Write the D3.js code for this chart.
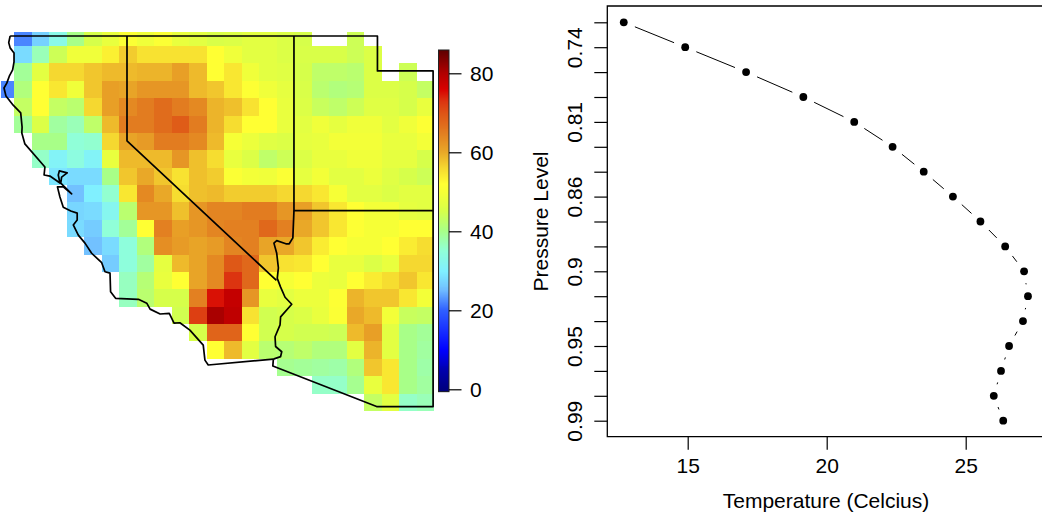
<!DOCTYPE html>
<html>
<head>
<meta charset="utf-8">
<script src="https://cdn.jsdelivr.net/npm/d3@7"></script>
<style>
html, body { margin: 0; padding: 0; background: #fff; }
svg { display: block; }
text { font-family: "Liberation Sans", Arial, sans-serif; font-size: 21px; fill: #000; }
</style>
</head>
<body>
<svg id="chart" width="1042" height="515"></svg>
<script>
const _ = null;

// heat map, one row per grid line (north to south)
const gridValues = [
	[_,22,27,33,40,45,48,51,49,51,48,47,45.5,46,47,47,46,45,_,_,44,_,_,_,_],
	[_,28,37,44,49,49,53.5,57,55,55,55,55,52,49,47,47,46,45.5,45.5,45.5,44,46,_,_,_],
	[_,39,47,56,56,57.5,58.5,58.5,59,59,61,58.5,52,54.5,49,47,46.5,45,42.5,42.5,42,46,_,44,_],
	[22,41,52,54.5,49,57.5,61,60.5,62,62,62,58.5,57.5,54.5,51.5,49,47.5,45.5,42,41,41.5,46,46,45,43],
	[_,43,52,43,42,56,61,63.5,65,67,65,63.5,59,58,55,52,48,46,43.5,42.5,44,46.5,46.5,45,48],
	[_,39,46,38.5,37,42.5,58.5,65,65,67,69,65,59,55.5,52,52,48,47,49,47.5,49,49,47,49,51.5],
	[_,_,40,40,35,35.5,56,60.5,61.5,65,65,63.5,58.5,50,48.5,46.5,46,47.5,48,49.5,49.5,49.5,48,48,49.5],
	[_,_,36,31,34,31,48,58.5,58.5,58.5,62,58,55.5,48,46,42.5,44,46,48,48,49,49,47.5,47.5,45],
	[_,_,_,29,28,28,40,57.5,60,57.5,55,58,57,51,49.5,49,51,47.5,49.5,47,47,48.5,46.5,45,44],
	[_,_,_,_,25.5,30,35.5,54.5,63.5,60,55.5,58,58.5,57,57,57,56,56,54.5,50,47,47,46,47,47],
	[_,_,_,_,27.5,28,32,42,62,62,58,62,64,64,65,65,62,61,57.5,54.5,52,49.5,49.5,47.5,47],
	[_,_,_,_,28,26.5,35,39,52,64.5,61,62,64,64.5,64.5,67.5,64.5,60,57.5,54.5,51.5,50,50,52,52],
	[_,_,_,_,_,25.5,28,34.5,41,63,61.5,60.5,61.5,64,64.5,60.5,60,57.5,54,52,50,50,52,54,55.5],
	[_,_,_,_,_,_,26.5,34.5,38.5,47.5,58.5,60.5,63.5,69.5,67.5,57.5,55,54.5,52,48,48,46,48,56,56],
	[_,_,_,_,_,_,_,36.5,41.5,48,52,60.5,63.5,73,67.5,52,50,52,48.5,48,52,54,55.5,57.5,54.5],
	[_,_,_,_,_,_,_,36.5,42,45,45,64.5,75,78,62,48,47,48.5,48.5,51.5,59,57.5,57.5,54.5,49.5],
	[_,_,_,_,_,_,_,_,_,_,44.5,72,80.5,78.5,55,44.5,45,46,48,51,60,58.5,49.5,43.5,43],
	[_,_,_,_,_,_,_,_,_,_,_,45,68,68,52,44.5,45,44.5,44.5,44,58.5,61,47,40,39],
	[_,_,_,_,_,_,_,_,_,_,_,_,52,58.5,47,42,41.5,42.5,41,41,47,59,47,40,38.5],
	[_,_,_,_,_,_,_,_,_,_,_,_,_,_,_,_,39.5,39,38.5,38,41,57.5,54.5,40,38],
	[_,_,_,_,_,_,_,_,_,_,_,_,_,_,_,_,_,_,36,36,39.5,48,54.5,40,38.5],
	[_,_,_,_,_,_,_,_,_,_,_,_,_,_,_,_,_,_,_,_,_,43,47,36,37]
];

const colorValues = [0,5,10,20,25,30,35,40,45,50,52,56,60,65,70,73,76,80,86];
const colorHexes = ['#000080','#0000b0','#0000ff','#3060ff','#70bcff','#80f0ff','#90ffd8','#a8ff88','#d6ff4a','#f6ff36','#ffff33','#f5d830','#e9a828','#e27c20','#de5416','#dc3410','#d80000','#b00000','#5a0000'];
const legendTicks = [0,20,40,60,80];

// state outlines as lon, lat
const coastline = [
	[-124.20,42],[-124.25,41.81],[-124.20,41.66],[-124.06,41.51],[-124.06,41.26],[-124.11,41.03],
	[-124.23,40.85],[-124.32,40.65],[-124.42,40.51],[-124.35,40.28],[-124.09,40.02],[-123.82,39.80],
	[-123.77,39.39],[-123.78,39.22],[-123.67,38.91],[-122.95,38.25],[-122.98,38.02],[-122.77,37.99],
	[-122.41,37.79],[-122.47,38.02],[-122.43,38.14],[-122.15,38.08],[-122.35,37.96],[-122.38,37.79],
	[-121.99,37.48],[-122.29,37.68],[-122.50,37.68],[-122.41,37.39],[-122.29,37.10],[-122.02,36.99],
	[-121.79,36.93],[-121.79,36.73],[-121.93,36.59],[-121.75,36.30],[-121.51,36.07],[-121.27,35.78],
	[-120.91,35.51],[-120.79,35.25],[-120.61,35.21],[-120.59,34.68],[-120.41,34.49],[-119.59,34.46],
	[-119.29,34.35],[-119.17,34.18],[-118.81,34.04],[-118.48,34.06],[-118.31,33.78],[-118.10,33.79],
	[-117.74,33.58],[-117.26,33.15],[-117.20,32.72],[-117.08,32.58],[-114.74,32.75]
];
const coloradoRiver = [
	[-114.74,32.75],[-114.48,32.82],[-114.44,32.96],[-114.66,33.11],[-114.68,33.39],[-114.50,33.73],
	[-114.48,33.96],[-114.08,34.32],[-114.32,34.52],[-114.48,34.81],[-114.60,35.06],[-114.56,35.36],
	[-114.62,35.78],[-114.72,36.07],[-114.62,36.14],[-114.29,36.05],[-114.17,36.05],[-114.04,36.22],[-114,37]
];
const outerBorder = [
	[-124.20,42],[-111,42],[-111,41],[-109,41],[-109,31.39],[-111.03,31.39],[-114.76,32.55],[-114.74,32.75]
];
const caNvBorder = [[-120,42],[-120,39],[-114.63,35]];
const nvUtBorder = [[-114,42],[-114,37],[-109,37]];

// profile
const levelIndex = d3.range(17);
const temperature = [12.70,14.91,17.10,19.16,20.99,22.37,23.49,24.54,25.53,26.42,27.10,27.24,27.06,26.56,26.27,26.01,26.35];
const levelLabels = ['','0.74','','','0.81','','','0.86','','','0.9','','','0.95','','','0.99'];
const tempTicks = [15,20,25];

const svg = d3.select('#chart');

// left panel
const colScale = d3.scaleLinear().domain([0,25]).range([-3.5,434]);
const rowScale = d3.scaleLinear().domain([0,22]).range([28.6,411]);
const color = d3.scaleLinear().domain(colorValues).range(colorHexes);
const lonScale = d3.scaleLinear().domain([-120,-109]).range([127,433.1]);
const latScale = d3.scaleLinear().domain([42,31]).range([36,420.2]);
const legendScale = d3.scaleLinear().domain([0,80]).range([389.3,73.3]);

svg.append('clipPath').attr('id','mapclip')
	.append('rect').attr('x',1).attr('y',32).attr('width',433).attr('height',379);

const cells = [];
gridValues.forEach((row, r) => row.forEach((v, c) => { if (v !== null) cells.push({r, c, v}); }));

svg.append('g').attr('clip-path','url(#mapclip)').attr('shape-rendering','crispEdges')
	.selectAll('rect').data(cells).enter().append('rect')
	.attr('x', d => colScale(d.c))
	.attr('y', d => rowScale(d.r))
	.attr('width', d => colScale(d.c + 1) - colScale(d.c))
	.attr('height', d => rowScale(d.r + 1) - rowScale(d.r))
	.attr('fill', d => color(d.v));

const geoLine = d3.line().x(d => lonScale(d[0])).y(d => latScale(d[1]));
svg.append('g').selectAll('path')
	.data([coastline, coloradoRiver, outerBorder, caNvBorder, nvUtBorder])
	.enter().append('path')
	.attr('d', geoLine)
	.attr('fill','none').attr('stroke','#000').attr('stroke-width',1.7).attr('stroke-linejoin','round');

// colour bar
const barLeft = 438.5, barRight = 449;
const barValues = d3.range(-0.6,85.9,0.25);
svg.append('g').attr('shape-rendering','crispEdges')
	.selectAll('rect').data(barValues).enter().append('rect')
	.attr('x',barLeft).attr('width',barRight - barLeft)
	.attr('y', d => legendScale(d + 0.25))
	.attr('height', legendScale(0) - legendScale(0.25) + 0.5)
	.attr('fill', d => color(d));
svg.append('rect')
	.attr('x',barLeft).attr('width',barRight - barLeft)
	.attr('y',legendScale(85.9)).attr('height',legendScale(-0.6) - legendScale(85.9))
	.attr('fill','none').attr('stroke','#222').attr('stroke-width',1);

const legendAxis = svg.append('g').attr('transform',`translate(${barRight},0)`)
	.call(d3.axisRight(legendScale).tickValues(legendTicks).tickSize(12.5).tickPadding(8.5).tickFormat(d3.format('d')));
legendAxis.select('.domain').remove();
legendAxis.selectAll('line').attr('stroke','#000').attr('stroke-width',1.2);

// right panel
const plotLeft = 607.3, plotTop = 6, plotBottom = 436.7, plotRight = 1043;
const tempScale = d3.scaleLinear().domain([15,25]).range([687.7,965.7]);
const levelScale = d3.scalePoint().domain(levelIndex).range([22.3,420.7]);

svg.append('path')
	.attr('d',`M${plotRight},${plotTop}H${plotLeft}V${plotBottom}H${plotRight}`)
	.attr('fill','none').attr('stroke','#000').attr('stroke-width',1.3);

const xAxis = svg.append('g').attr('transform',`translate(0,${plotBottom})`)
	.call(d3.axisBottom(tempScale).tickValues(tempTicks).tickSize(13).tickPadding(8).tickFormat(d3.format('d')));
xAxis.select('.domain').remove();
xAxis.selectAll('line').attr('stroke','#000').attr('stroke-width',1.2);

const yAxis = svg.append('g').attr('transform',`translate(${plotLeft},0)`)
	.call(d3.axisLeft(levelScale).tickSize(13).tickFormat(d => levelLabels[d]));
yAxis.select('.domain').remove();
yAxis.selectAll('line').attr('stroke','#000').attr('stroke-width',1.2);
yAxis.selectAll('text').filter(d => levelLabels[d] === '').remove();
yAxis.selectAll('text')
	.attr('transform','rotate(-90)')
	.attr('x',0).attr('y',-25).attr('dy',0)
	.attr('text-anchor','middle');

svg.append('text').attr('x',826).attr('y',508).attr('text-anchor','middle').text('Temperature (Celcius)');
svg.append('text').attr('transform','translate(548,221.5) rotate(-90)').attr('text-anchor','middle').text('Pressure Level');

// type "b" style line: every segment stops short of the points
const profile = temperature.map((t, i) => ({px: tempScale(t), py: levelScale(i)}));
const gap = 12;
const segments = d3.pairs(profile).map(([a, b]) => {
	const len = Math.hypot(b.px - a.px, b.py - a.py);
	const ux = (b.px - a.px) / len, uy = (b.py - a.py) / len;
	return {len, x1: a.px + ux * gap, y1: a.py + uy * gap, x2: b.px - ux * gap, y2: b.py - uy * gap};
}).filter(s => s.len > 2 * gap);

svg.append('g').selectAll('line').data(segments).enter().append('line')
	.attr('x1', d => d.x1).attr('y1', d => d.y1)
	.attr('x2', d => d.x2).attr('y2', d => d.y2)
	.attr('stroke','#000').attr('stroke-width',1);

svg.append('g').selectAll('circle').data(profile).enter().append('circle')
	.attr('cx', d => d.px).attr('cy', d => d.py).attr('r',3.9).attr('fill','#000');
</script>
</body>
</html>
